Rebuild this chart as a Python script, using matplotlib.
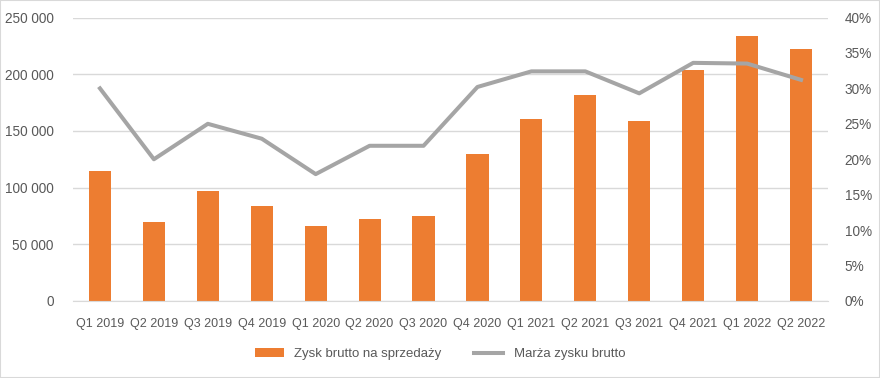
import matplotlib
matplotlib.use("Agg")
import matplotlib.pyplot as plt
from matplotlib.ticker import FuncFormatter, MultipleLocator

categories = ["Q1 2019", "Q2 2019", "Q3 2019", "Q4 2019", "Q1 2020", "Q2 2020", "Q3 2020",
              "Q4 2020", "Q1 2021", "Q2 2021", "Q3 2021", "Q4 2021", "Q1 2022", "Q2 2022"]
zysk = [115000, 70000, 97000, 84000, 66000, 72500, 75000,
        130000, 160500, 182000, 159000, 204000, 234000, 222000]
marza = [30.0, 20.0, 25.0, 22.9, 17.9, 21.9, 21.9,
         30.2, 32.4, 32.4, 29.3, 33.6, 33.5, 31.2]

plt.rcParams['font.family'] = ['Liberation Sans', 'DejaVu Sans']
txt = '#595959'

fig = plt.figure(figsize=(8.8, 3.78), dpi=100)
ax = fig.add_axes([73/880, 1-301/378, (828-73)/880, (301-17.5)/378])
x = list(range(len(categories)))
bars = ax.bar(x, zysk, width=0.41, color='#ed7d31', zorder=2, label='Zysk brutto na sprzedaży')
ax.set_ylim(0, 250000)
ax.set_xlim(-0.5, len(categories) - 0.5)
ax.yaxis.set_major_locator(MultipleLocator(50000))
ax.yaxis.set_major_formatter(FuncFormatter(lambda v, p: f"{int(v):,}".replace(",", " ")))
ax.grid(axis='y', color='#d9d9d9', linewidth=1, zorder=0)
ax.set_xticks(x)
ax.set_xticklabels(categories)
for s in ax.spines.values():
    s.set_visible(False)
ax.spines['bottom'].set_visible(True)
ax.spines['bottom'].set_color('#d9d9d9')
ax.tick_params(axis='both', length=0, colors=txt, labelsize=9.8)
ax.tick_params(axis='x', pad=12, labelsize=9)
ax.tick_params(axis='y', pad=14)

ax2 = ax.twinx()
line, = ax2.plot(x, marza, color='#a5a5a5', linewidth=2.9, zorder=3, label='Marża zysku brutto',
                 solid_joinstyle='round')
ax2.set_ylim(0, 40)
ax2.yaxis.set_major_locator(MultipleLocator(5))
ax2.yaxis.set_major_formatter(FuncFormatter(lambda v, p: f"{int(round(v))}%"))
for s in ax2.spines.values():
    s.set_visible(False)
ax2.tick_params(axis='y', length=0, colors=txt, labelsize=9.8, pad=12)

fig.legend([bars, line], ['Zysk brutto na sprzedaży', 'Marża zysku brutto'],
           loc='center', bbox_to_anchor=(0.5, 1-354/378), ncol=2, frameon=False,
           fontsize=9.5, labelcolor=txt, handlelength=2.2, columnspacing=2.5)

fig.patches.append(plt.Rectangle((0, 0), 1, 1, transform=fig.transFigure, fill=False,
                                 edgecolor='#d9d9d9', linewidth=1.5))
fig.savefig("out.png", dpi=100)
